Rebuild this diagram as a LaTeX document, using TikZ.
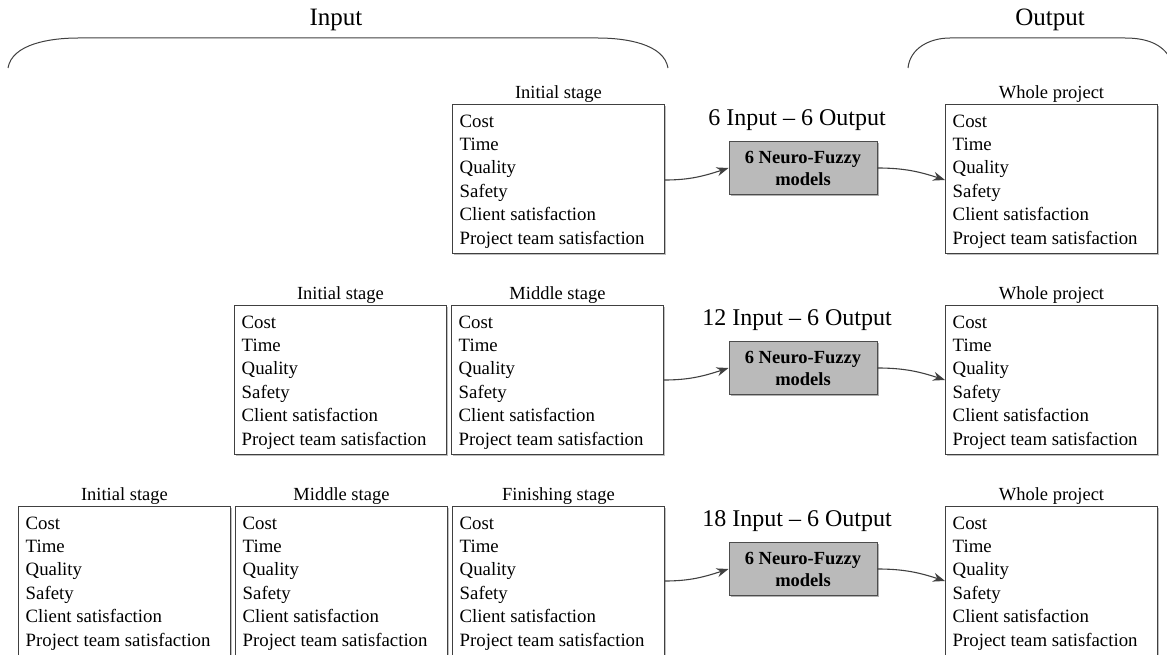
\documentclass[tikz,border=0pt]{standalone}
\usepackage{fontspec}
\setmainfont{Liberation Serif}
\usetikzlibrary{arrows.meta,shadows}
\newcommand\critlist{Cost\\Time\\Quality\\Safety\\Client satisfaction\\Project team satisfaction}
% a stage box: frame, criteria list and title above it
% #1 name, #2 left x, #3 top y, #4 title
\newcommand\stagecard[4]{%
  \node[stageframe] (#1) at (#2,#3) {};
  \node[stagetext] (#1-txt) at (#1.north west) {\critlist};
  \node[stagetitle] (#1-ttl) at (#1.north) {#4};}
\begin{document}
\begin{tikzpicture}[x=1pt,y=-1pt,
  stageframe/.style={draw=black!75,line width=0.9pt,fill=white,anchor=north west,
    minimum width=212pt,minimum height=149pt,inner sep=0pt,
    drop shadow={shadow xshift=1.5pt,shadow yshift=-1.5pt,opacity=0.25,fill=black}},
  stagetext/.style={anchor=north west,xshift=7.5pt,yshift=-10.5pt,inner sep=0pt,
    align=left,font=\fontsize{18.8}{23.4}\selectfont},
  stagetitle/.style={anchor=south,inner sep=1.5pt,font=\fontsize{18.5}{21}\selectfont},
  nfbox/.style={draw=black!70,line width=0.9pt,fill=black!27,minimum width=148pt,
    minimum height=53pt,align=center,font=\fontsize{18.5}{22}\selectfont\bfseries,
    drop shadow={shadow xshift=1.5pt,shadow yshift=-1.5pt,opacity=0.3,fill=black}},
  iolabel/.style={font=\fontsize{24}{26}\selectfont},
  headlabel/.style={font=\fontsize{25}{28}\selectfont},
  flow/.style={draw=black!75,line width=1.1pt,-{Stealth[length=12pt,width=9pt]}},
  brace/.style={draw=black!75,line width=1pt}]
\useasboundingbox (0,0) rectangle (1167,655);

% headings and braces
\node[headlabel] (hin) at (336,20) {Input};
\node[headlabel] (hout) at (1050,20) {Output};
\coordinate (bin1) at (8,68);
\coordinate (bin2) at (668,68);
\coordinate (bout1) at (908,68);
\coordinate (bout2) at (1172,62);
\draw[brace] (bin1) .. controls (12,44) and (50,38) .. (78,38) -- (598,38)
  .. controls (626,38) and (664,44) .. (bin2);
\draw[brace] (bout1) .. controls (910,48) and (930,38) .. (950,38) -- (1125,38)
  .. controls (1150,38) and (1165,46) .. (bout2);

% row 1: initial stage only
\stagecard{r1a}{452}{104}{Initial stage}
\stagecard{r1w}{945}{104}{Whole project}
\node[nfbox] (r1nf) at (803,168) {6 Neuro-Fuzzy\\models};
\node[iolabel] (r1io) at (797,120) {6 Input -- 6 Output};
\draw[flow] (r1a.east |- 0,180) to[out=0,in=198] (r1nf.west);
\draw[flow] (r1nf.east) to[out=0,in=162] (r1w.west |- 0,180);

% row 2: initial and middle stages
\stagecard{r2a}{234}{305}{Initial stage}
\stagecard{r2b}{451}{305}{Middle stage}
\stagecard{r2w}{945}{305}{Whole project}
\node[nfbox] (r2nf) at (803,368) {6 Neuro-Fuzzy\\models};
\node[iolabel] (r2io) at (797,320) {12 Input -- 6 Output};
\draw[flow] (r2b.east |- 0,380) to[out=0,in=198] (r2nf.west);
\draw[flow] (r2nf.east) to[out=0,in=162] (r2w.west |- 0,380);

% row 3: initial, middle and finishing stages
\stagecard{r3a}{18}{506}{Initial stage}
\stagecard{r3b}{235}{506}{Middle stage}
\stagecard{r3c}{452}{506}{Finishing stage}
\stagecard{r3w}{945}{506}{Whole project}
\node[nfbox] (r3nf) at (803,569) {6 Neuro-Fuzzy\\models};
\node[iolabel] (r3io) at (797,521) {18 Input -- 6 Output};
\draw[flow] (r3c.east |- 0,581) to[out=0,in=198] (r3nf.west);
\draw[flow] (r3nf.east) to[out=0,in=162] (r3w.west |- 0,581);
\end{tikzpicture}
\end{document}
